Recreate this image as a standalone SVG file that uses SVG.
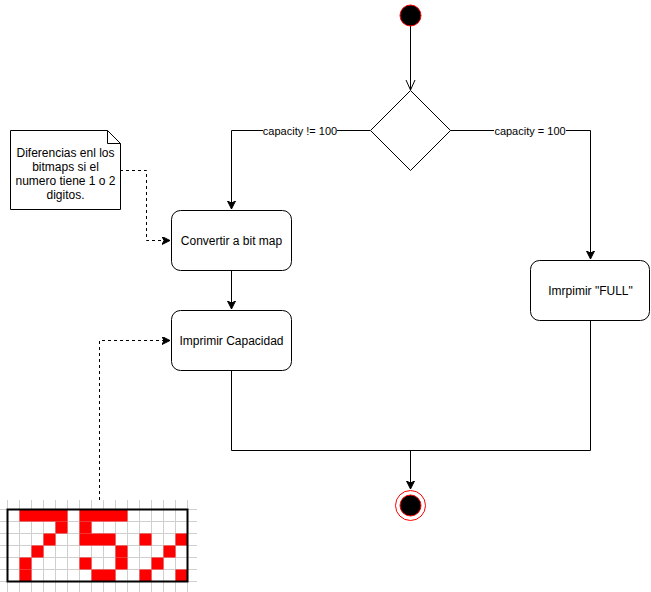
<svg xmlns="http://www.w3.org/2000/svg" width="651" height="592" viewBox="0 0 651 592">
<defs>
<marker id="arr" markerWidth="10" markerHeight="10" refX="8" refY="4" orient="auto" markerUnits="userSpaceOnUse">
<path d="M0,0 L8,4 L0,8 L2,4 Z" fill="#000" stroke="#000" stroke-width="1"/>
</marker>
</defs>
<style>
.edge{fill:none;stroke:#000;stroke-width:1}
.dash{stroke-dasharray:3 3}
.box{fill:#fff;stroke:#000;stroke-width:1}
.t{font-family:"Liberation Sans",Arial,sans-serif;font-size:12px;fill:#000}
.lbl{font-family:"Liberation Sans",Arial,sans-serif;font-size:11px;fill:#000}
.grid{stroke:#cfcfcf;stroke-width:1}
.px{fill:#ff0000}
</style>
<rect width="651" height="592" fill="#fff"/>

<g id="connectors">
<path class="edge" d="M410.5,26 L410.5,90"/>
<polyline class="edge" points="406,80 410.5,90 415,80"/>
<path class="edge" d="M370,130.5 L231.5,130.5 L231.5,209" marker-end="url(#arr)"/>
<rect x="263" y="124" width="74" height="13" fill="#fff"/>
<text class="lbl" x="300" y="134.5" text-anchor="middle">capacity != 100</text>
<path class="edge" d="M450,130.5 L590.5,130.5 L590.5,259" marker-end="url(#arr)"/>
<rect x="494" y="124" width="72" height="13" fill="#fff"/>
<text class="lbl" x="530" y="134.5" text-anchor="middle">capacity = 100</text>
<path class="edge" d="M231.5,270 L231.5,309" marker-end="url(#arr)"/>
<path class="edge" d="M231.5,370 L231.5,450.5 L590.5,450.5 L590.5,320"/>
<path class="edge" d="M410.5,450.5 L410.5,489" marker-end="url(#arr)"/>
<path class="edge dash" d="M120,170.5 L146.5,170.5 L146.5,240.5 L170,240.5" marker-end="url(#arr)"/>
<path class="edge dash" d="M99.5,500 L99.5,340.5 L170,340.5" marker-end="url(#arr)"/>
</g>

<g id="start">
<circle cx="410.5" cy="15.5" r="10.5" fill="#000" stroke="#ff0000" stroke-width="1"/>
</g>

<g id="decision">
<polygon class="box" points="410.5,90.5 450.5,130.5 410.5,170.5 370.5,130.5"/>
</g>

<g id="note">
<path class="box" d="M10.5,130.5 L107.5,130.5 L120.5,143.5 L120.5,209.5 L10.5,209.5 Z"/>
<path class="edge" d="M107.5,130.5 L107.5,143.5 L120.5,143.5"/>
<text class="t" x="65.5" y="157" text-anchor="middle">Diferencias enl los</text>
<text class="t" x="65.5" y="171" text-anchor="middle">bitmaps si el</text>
<text class="t" x="65.5" y="185" text-anchor="middle">numero tiene 1 o 2</text>
<text class="t" x="65.5" y="199" text-anchor="middle">digitos.</text>
</g>

<g id="convertir">
<rect class="box" x="171.5" y="210.5" width="120" height="60" rx="9" ry="9"/>
<text class="t" x="231.5" y="244.5" text-anchor="middle">Convertir a bit map</text>
</g>

<g id="imprimir">
<rect class="box" x="171.5" y="310.5" width="120" height="60" rx="9" ry="9"/>
<text class="t" x="231.5" y="344.5" text-anchor="middle">Imprimir Capacidad</text>
</g>

<g id="full">
<rect class="box" x="530.5" y="260.5" width="119" height="60" rx="9" ry="9"/>
<text class="t" x="590.5" y="294.5" text-anchor="middle">Imrpimir "FULL"</text>
</g>

<g id="end">
<circle cx="410.5" cy="505.5" r="15" fill="#fff" stroke="#ff0000" stroke-width="1"/>
<circle cx="410.5" cy="505.5" r="10.5" fill="#000" stroke="#ff0000" stroke-width="1"/>
</g>

<g id="bitmap">
<g class="grid">
<path d="M19.5,500V592M31.5,500V592M43.5,500V592M55.5,500V592M67.5,500V592M79.5,500V592M91.5,500V592M103.5,500V592M115.5,500V592M127.5,500V592M139.5,500V592M151.5,500V592M163.5,500V592M175.5,500V592M7.5,500V592M187.5,500V592"/>
<path d="M0,509.5H197M0,521.5H197M0,533.5H197M0,545.5H197M0,557.5H197M0,569.5H197M0,581.5H197"/>
</g>
<g class="px">
<rect x="19.5" y="509.5" width="48" height="12"/>
<rect x="79.5" y="509.5" width="48" height="12"/>
<rect x="55.5" y="521.5" width="12" height="12"/>
<rect x="79.5" y="521.5" width="12" height="12"/>
<rect x="43.5" y="533.5" width="12" height="12"/>
<rect x="79.5" y="533.5" width="36" height="12"/>
<rect x="139.5" y="533.5" width="12" height="12"/>
<rect x="175.5" y="533.5" width="12" height="12"/>
<rect x="31.5" y="545.5" width="12" height="12"/>
<rect x="115.5" y="545.5" width="12" height="12"/>
<rect x="163.5" y="545.5" width="12" height="12"/>
<rect x="19.5" y="557.5" width="12" height="12"/>
<rect x="79.5" y="557.5" width="12" height="12"/>
<rect x="115.5" y="557.5" width="12" height="12"/>
<rect x="151.5" y="557.5" width="12" height="12"/>
<rect x="19.5" y="569.5" width="12" height="12"/>
<rect x="91.5" y="569.5" width="24" height="12"/>
<rect x="139.5" y="569.5" width="12" height="12"/>
<rect x="175.5" y="569.5" width="12" height="12"/>
</g>
<rect x="7.5" y="509.5" width="180" height="72" fill="none" stroke="#000" stroke-width="2"/>
</g>
</svg>
